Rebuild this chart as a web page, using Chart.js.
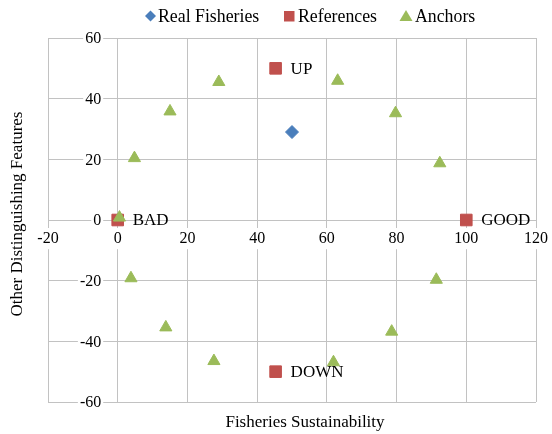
<!DOCTYPE html>
<html><head><meta charset="utf-8">
<script src="https://cdn.jsdelivr.net/npm/chart.js@4/dist/chart.umd.min.js"></script>
<style>html,body{margin:0;padding:0;background:#fff;}#wrap{width:552px;height:434px;position:relative}</style>
</head><body><div id="wrap"><canvas id="c" width="552" height="434"></canvas></div>
<script>
const seriesNames = ['Real Fisheries', 'References', 'Anchors'];
const realX = [50];
const realY = [29];
const refLabels = ['BAD', 'GOOD', 'UP', 'DOWN'];
const refX = [0, 100, 45.3, 45.3];
const refY = [0, 0, 50, -50];
const anchorX = [0.5, 4.8, 15, 29, 63.1, 79.7, 92.4, 91.4, 78.6, 61.9, 27.6, 13.8, 3.8];
const anchorY = [0.8, 20.4, 35.8, 45.5, 45.9, 35.2, 18.7, -19.7, -36.8, -46.9, -46.5, -35.4, -19.2];
const xAxisTitle = 'Fisheries Sustainability';
const yAxisTitle = 'Other Distinguishing Features';
const xMin = -20, xMax = 120, xStep = 20;
const yMin = -60, yMax = 60, yStep = 20;

const FONT = "'Times New Roman', 'Liberation Serif', serif";
const BLUE = '#4A7EBB', RED = '#C0504D', GREEN = '#9BBB59';
const GRID = '#c2c2c2';

function pts(xs, ys) { return xs.map((x, i) => ({x: x, y: ys[i]})); }

const extras = {
  id: 'extras',
  beforeDatasetsDraw(chart) {
    // y tick labels, placed left of the y axis (which crosses at x = 0)
    const ctx = chart.ctx;
    const ys = chart.scales.y, xs = chart.scales.x;
    const ax = xs.getPixelForValue(0);
    ctx.save();
    ctx.font = '16px ' + FONT;
    ctx.textAlign = 'right';
    ctx.textBaseline = 'middle';
    ys.ticks.forEach(t => {
      const py = ys.getPixelForValue(t.value);
      const label = String(t.value);
      const w = ctx.measureText(label).width;
      const rx = ax - 16.5;
      ctx.fillStyle = '#fff';
      ctx.fillRect(rx - w - 2, py - 8, w + 4, 16);
      ctx.fillStyle = '#000';
      ctx.fillText(label, rx, py + 1);
    });
    ctx.restore();
  },
  afterDatasetsDraw(chart) {
    const ctx = chart.ctx;
    const meta = chart.getDatasetMeta(1);
    ctx.save();
    ctx.font = '17px ' + FONT;
    ctx.fillStyle = '#000';
    ctx.textBaseline = 'middle';
    ctx.textAlign = 'left';
    meta.data.forEach((el, i) => { ctx.fillText(refLabels[i], el.x + 15, el.y + 1); });
    ctx.restore();
  },
  afterDraw(chart) {
    const ctx = chart.ctx;
    ctx.save();
    ctx.fillStyle = '#000';
    ctx.font = '17px ' + FONT;
    ctx.textAlign = 'center';
    ctx.textBaseline = 'middle';
    ctx.fillText(xAxisTitle, 305, 423);
    ctx.save();
    ctx.translate(18, 214);
    ctx.rotate(-Math.PI / 2);
    ctx.fillText(yAxisTitle, 0, 0);
    ctx.restore();
    // legend
    const ly = 16;
    ctx.fillStyle = BLUE;
    ctx.beginPath();
    ctx.moveTo(150.5, ly - 5.5); ctx.lineTo(156, ly); ctx.lineTo(150.5, ly + 5.5); ctx.lineTo(145, ly); ctx.closePath(); ctx.fill();
    ctx.fillStyle = RED;
    ctx.fillRect(284, ly - 5, 10.5, 10.5);
    ctx.fillStyle = GREEN;
    ctx.beginPath();
    ctx.moveTo(406, ly - 6); ctx.lineTo(412.5, ly + 5); ctx.lineTo(399.5, ly + 5); ctx.closePath(); ctx.fill();
    ctx.fillStyle = '#000';
    ctx.textAlign = 'left';
    ctx.font = '17.8px ' + FONT;
    ctx.fillText(seriesNames[0], 158, ly + 1);
    ctx.fillText(seriesNames[1], 298, ly + 1);
    ctx.fillText(seriesNames[2], 415, ly + 1);
    ctx.restore();
  }
};

new Chart(document.getElementById('c'), {
  type: 'scatter',
  data: {
    datasets: [
      {label: seriesNames[0], data: pts(realX, realY), pointStyle: 'rectRot', pointRadius: 6.5, backgroundColor: BLUE, borderColor: BLUE, borderWidth: 1, order: 3},
      {label: seriesNames[1], data: pts(refX, refY), pointStyle: 'rect', pointRadius: 8.2, backgroundColor: RED, borderColor: RED, borderWidth: 1, order: 2},
      {label: seriesNames[2], data: pts(anchorX, anchorY), pointStyle: 'triangle', pointRadius: 7, backgroundColor: GREEN, borderColor: GREEN, borderWidth: 1, order: 1}
    ]
  },
  options: {
    responsive: false,
    animation: false,
    devicePixelRatio: 1,
    layout: {padding: {left: 48, right: 14, top: 38, bottom: 32}},
    plugins: {legend: {display: false}, tooltip: {enabled: false}},
    scales: {
      x: {
        type: 'linear', position: {y: 0}, min: xMin, max: xMax,
        ticks: {stepSize: xStep, font: {family: FONT, size: 16}, color: '#000', padding: 4,
                showLabelBackdrop: true, backdropColor: '#fff', backdropPadding: 1, z: 1},
        grid: {color: GRID, lineWidth: 1, tickLength: 5},
        border: {color: GRID}
      },
      y: {
        type: 'linear', position: {x: 0}, min: yMin, max: yMax,
        ticks: {stepSize: yStep, display: false},
        grid: {color: GRID, lineWidth: 1, tickLength: 5},
        border: {color: GRID}
      }
    }
  },
  plugins: [extras]
});
</script></body></html>
